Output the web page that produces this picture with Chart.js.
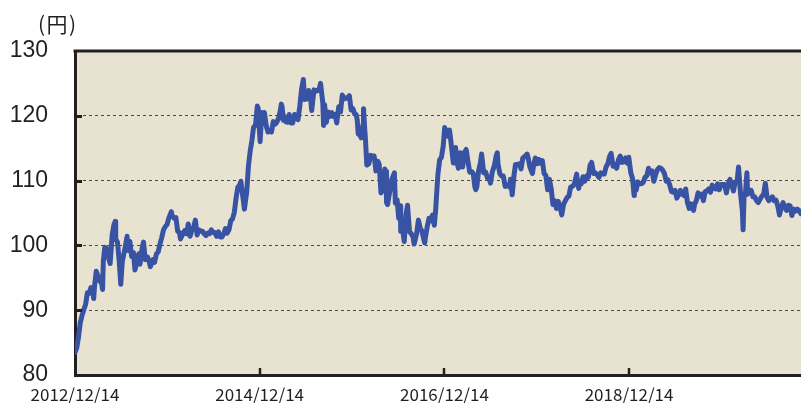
<!DOCTYPE html>
<html><head><meta charset="utf-8">
<script src="https://cdn.jsdelivr.net/npm/chart.js@4/dist/chart.umd.min.js"></script>
<style>
html,body{margin:0;padding:0;background:#fff;}
#wrap{position:relative;width:801px;height:403px;}
#unit{position:absolute;left:38px;top:13px;font-size:21px;line-height:21px;font-family:"Noto Sans CJK JP";color:#231f20;letter-spacing:1.5px;}
</style></head><body>
<div id="wrap"><canvas id="c" width="801" height="403"></canvas><div id="unit">(円)</div></div>
<script>
const startDate = '2012-12-14';
const endDate = '2020-10-24';
const tickDates = ['2012-12-14','2014-12-14','2016-12-14','2018-12-14'];
const tickLabels = ['2012/12/14','2014/12/14','2016/12/14','2018/12/14'];
const yMin = 80, yMax = 130, yStep = 10;

const dates = [
'2012-12-14','2012-12-21','2012-12-28',
'2013-01-04','2013-01-11','2013-01-18','2013-01-25','2013-02-01','2013-02-08','2013-02-15','2013-02-22','2013-02-26','2013-03-01','2013-03-08','2013-03-15','2013-03-22','2013-03-29','2013-04-02','2013-04-05','2013-04-11','2013-04-19','2013-04-26','2013-05-02','2013-05-10','2013-05-17','2013-05-22','2013-05-24','2013-05-31','2013-06-07','2013-06-13','2013-06-19','2013-06-28','2013-07-08','2013-07-12','2013-07-19','2013-07-26','2013-08-02','2013-08-08','2013-08-16','2013-08-23','2013-08-28','2013-09-06','2013-09-11','2013-09-18','2013-09-27','2013-10-04','2013-10-08','2013-10-18','2013-10-25','2013-11-01','2013-11-08','2013-11-15','2013-11-22','2013-11-29','2013-12-06','2013-12-13','2013-12-20','2013-12-30',
'2014-01-02','2014-01-10','2014-01-17','2014-01-24','2014-01-31','2014-02-04','2014-02-14','2014-02-21','2014-02-28','2014-03-07','2014-03-14','2014-03-21','2014-03-28','2014-04-04','2014-04-11','2014-04-18','2014-04-25','2014-05-02','2014-05-09','2014-05-16','2014-05-23','2014-05-30','2014-06-06','2014-06-13','2014-06-20','2014-06-27','2014-07-04','2014-07-11','2014-07-18','2014-07-25','2014-08-01','2014-08-08','2014-08-15','2014-08-22','2014-08-29','2014-09-05','2014-09-12','2014-09-19','2014-09-26','2014-10-01','2014-10-07','2014-10-15','2014-10-24','2014-10-31','2014-11-07','2014-11-14','2014-11-20','2014-11-28','2014-12-05','2014-12-08','2014-12-16','2014-12-23','2014-12-31',
'2015-01-02','2015-01-09','2015-01-16','2015-01-23','2015-01-30','2015-02-06','2015-02-13','2015-02-20','2015-02-27','2015-03-06','2015-03-10','2015-03-13','2015-03-18','2015-03-20','2015-03-27','2015-04-03','2015-04-10','2015-04-17','2015-04-24','2015-05-01','2015-05-08','2015-05-15','2015-05-22','2015-05-29','2015-06-05','2015-06-10','2015-06-12','2015-06-19','2015-06-26','2015-07-03','2015-07-08','2015-07-17','2015-07-24','2015-07-31','2015-08-07','2015-08-12','2015-08-21','2015-08-24','2015-08-28','2015-09-04','2015-09-11','2015-09-18','2015-09-25','2015-10-02','2015-10-09','2015-10-15','2015-10-23','2015-10-30','2015-11-06','2015-11-13','2015-11-20','2015-11-27','2015-12-04','2015-12-11','2015-12-18','2015-12-25','2015-12-31',
'2016-01-04','2016-01-08','2016-01-15','2016-01-20','2016-01-27','2016-01-29','2016-02-03','2016-02-05','2016-02-11','2016-02-19','2016-02-26','2016-03-04','2016-03-11','2016-03-18','2016-03-25','2016-03-31','2016-04-07','2016-04-15','2016-04-22','2016-04-27','2016-04-29','2016-05-03','2016-05-13','2016-05-20','2016-05-30','2016-06-03','2016-06-10','2016-06-16','2016-06-23','2016-06-24','2016-07-01','2016-07-08','2016-07-15','2016-07-21','2016-07-29','2016-08-05','2016-08-12','2016-08-16','2016-08-19','2016-08-26','2016-09-02','2016-09-09','2016-09-16','2016-09-23','2016-09-27','2016-09-30','2016-10-07','2016-10-14','2016-10-21','2016-10-28','2016-11-04','2016-11-09','2016-11-11','2016-11-18','2016-11-25','2016-12-02','2016-12-09','2016-12-15','2016-12-23','2016-12-30',
'2017-01-03','2017-01-06','2017-01-13','2017-01-18','2017-01-20','2017-01-27','2017-02-03','2017-02-07','2017-02-10','2017-02-15','2017-02-24','2017-03-02','2017-03-10','2017-03-16','2017-03-24','2017-03-31','2017-04-07','2017-04-13','2017-04-17','2017-04-21','2017-04-28','2017-05-05','2017-05-10','2017-05-18','2017-05-26','2017-06-02','2017-06-09','2017-06-14','2017-06-21','2017-06-30','2017-07-07','2017-07-11','2017-07-14','2017-07-21','2017-07-28','2017-08-04','2017-08-11','2017-08-18','2017-08-25','2017-08-29','2017-09-01','2017-09-08','2017-09-15','2017-09-21','2017-09-29','2017-10-06','2017-10-13','2017-10-20','2017-10-27','2017-11-06','2017-11-10','2017-11-17','2017-11-27','2017-12-01','2017-12-08','2017-12-15','2017-12-22','2017-12-29',
'2018-01-05','2018-01-12','2018-01-19','2018-01-26','2018-02-02','2018-02-09','2018-02-16','2018-02-23','2018-03-02','2018-03-09','2018-03-16','2018-03-23','2018-03-30','2018-04-06','2018-04-13','2018-04-20','2018-04-27','2018-05-04','2018-05-11','2018-05-21','2018-05-25','2018-05-29','2018-06-01','2018-06-08','2018-06-15','2018-06-22','2018-06-29','2018-07-06','2018-07-13','2018-07-19','2018-07-27','2018-08-03','2018-08-10','2018-08-17','2018-08-24','2018-08-31','2018-09-07','2018-09-14','2018-09-21','2018-09-28','2018-10-04','2018-10-12','2018-10-19','2018-10-26','2018-11-02','2018-11-09','2018-11-16','2018-11-23','2018-11-30','2018-12-07','2018-12-13','2018-12-21','2018-12-28',
'2019-01-03','2019-01-04','2019-01-11','2019-01-18','2019-01-25','2019-02-01','2019-02-08','2019-02-15','2019-02-22','2019-03-01','2019-03-08','2019-03-15','2019-03-22','2019-03-29','2019-04-05','2019-04-12','2019-04-19','2019-04-26','2019-05-03','2019-05-10','2019-05-17','2019-05-24','2019-05-31','2019-06-07','2019-06-14','2019-06-21','2019-06-28','2019-07-05','2019-07-12','2019-07-19','2019-07-26','2019-08-02','2019-08-09','2019-08-16','2019-08-26','2019-08-30','2019-09-06','2019-09-13','2019-09-20','2019-09-27','2019-10-04','2019-10-11','2019-10-18','2019-10-25','2019-11-01','2019-11-08','2019-11-15','2019-11-22','2019-11-29','2019-12-06','2019-12-13','2019-12-20','2019-12-27',
'2020-01-03','2020-01-10','2020-01-17','2020-01-24','2020-01-31','2020-02-07','2020-02-14','2020-02-20','2020-02-28','2020-03-06','2020-03-09','2020-03-13','2020-03-18','2020-03-24','2020-03-27','2020-04-03','2020-04-10','2020-04-17','2020-04-24','2020-05-01','2020-05-08','2020-05-15','2020-05-22','2020-05-29','2020-06-05','2020-06-12','2020-06-19','2020-06-26','2020-07-03','2020-07-10','2020-07-17','2020-07-24','2020-07-31','2020-08-07','2020-08-14','2020-08-21','2020-08-28','2020-09-04','2020-09-11','2020-09-18','2020-09-25','2020-10-02','2020-10-09','2020-10-16','2020-10-23'
];
const values = [
83.5,84.2,85.9,
88.1,89.2,90.1,90.9,92.7,92.6,93.5,93.4,91.8,93.6,96.0,95.3,94.5,94.2,93.2,97.6,99.7,99.5,98.0,97.2,101.6,103.2,103.7,101.0,100.5,97.5,94.0,97.5,99.2,101.4,99.2,100.6,98.3,98.9,96.2,97.5,98.7,97.1,99.7,100.5,97.8,98.2,97.4,96.7,97.8,97.4,98.7,99.0,100.2,101.2,102.4,102.9,103.2,104.2,105.2,
104.6,104.2,104.3,102.2,102.0,101.0,101.8,102.3,101.8,103.3,101.4,102.3,102.8,103.9,101.6,102.4,102.2,102.2,101.8,101.5,101.9,101.8,102.4,102.0,102.0,101.4,102.1,101.3,101.3,101.8,102.6,101.9,102.4,103.8,104.1,105.1,107.3,109.0,109.3,109.9,108.0,105.6,108.2,112.3,114.6,116.3,118.2,118.6,121.5,121.2,116.0,120.5,119.8,
120.5,118.5,117.5,117.7,117.5,119.1,118.7,119.0,119.6,120.8,121.8,121.4,119.3,120.0,119.1,119.0,120.2,118.9,118.9,120.2,119.8,119.4,121.5,124.1,125.6,122.5,123.4,122.6,123.9,123.0,120.8,124.0,123.8,123.9,124.2,125.0,122.0,118.5,121.7,119.0,120.6,119.9,120.5,119.9,120.2,118.9,121.4,120.6,123.2,122.6,122.8,122.7,123.1,120.9,121.1,120.3,120.2,
119.4,117.2,117.0,116.6,118.7,121.1,117.8,116.8,112.4,112.6,113.9,113.8,113.8,111.5,113.0,112.5,108.1,108.7,111.8,111.4,106.6,106.3,108.6,110.2,111.2,106.5,107.0,104.2,106.1,102.2,102.6,100.6,104.8,106.2,102.1,101.8,101.3,100.2,100.2,101.8,103.9,102.7,102.2,101.0,100.4,101.3,102.9,104.2,103.8,104.7,103.1,105.3,106.6,110.9,113.2,113.6,115.3,118.2,117.3,116.8,
117.8,116.9,114.5,112.7,114.6,115.1,112.6,111.9,113.2,114.3,112.1,114.3,114.8,113.2,111.3,111.4,111.1,109.1,108.6,109.0,111.5,112.7,114.1,111.2,111.3,110.4,110.3,109.6,111.3,112.4,113.9,114.3,112.5,111.1,110.7,110.7,109.1,109.2,109.4,109.0,110.2,107.8,110.8,112.5,112.5,112.6,111.8,113.5,113.7,114.1,113.5,112.1,111.1,112.2,113.5,112.6,113.3,112.7,
113.1,111.1,110.8,108.6,110.2,108.8,106.3,106.9,105.7,106.8,106.0,104.7,106.3,106.9,107.4,107.6,109.0,109.1,109.4,111.0,109.4,108.8,109.5,109.5,110.6,109.9,110.7,110.5,112.4,112.8,111.1,111.2,110.9,110.5,111.2,111.0,111.0,112.1,112.6,113.7,114.2,112.2,112.5,111.9,113.2,113.8,112.8,112.9,113.5,112.7,113.6,111.2,110.3,
107.7,108.5,108.5,109.8,109.5,109.5,109.7,110.5,110.7,111.9,111.2,111.5,109.9,110.9,111.7,112.0,111.9,111.6,111.1,109.9,110.1,109.3,108.3,108.2,108.5,107.3,107.8,108.5,107.9,107.7,108.7,106.6,105.7,106.4,105.4,106.3,106.9,108.1,107.6,107.9,106.9,108.3,108.4,108.7,108.2,109.3,108.8,108.7,109.5,108.6,109.4,109.4,109.4,
108.1,109.5,110.2,109.3,108.4,109.8,109.8,112.1,107.9,105.4,102.4,107.9,107.8,111.2,107.9,108.5,108.5,107.5,107.5,106.9,106.6,107.1,107.6,107.8,109.6,107.4,106.9,107.2,107.5,106.9,107.0,106.1,104.7,105.9,106.6,105.8,105.4,106.2,106.1,104.6,105.6,105.3,105.6,105.4,104.9
];

const DAY = 86400000;
const dayOf = s => Math.round((Date.parse(s) - Date.parse(startDate)) / DAY);
const points = dates.map((d, i) => ({ x: dayOf(d), y: values[i] }));
const tickDays = tickDates.map(dayOf);
const INK = '#231f20';

const framePlugin = {
  id: 'frame',
  beforeDraw(chart) {
    const { ctx, chartArea: a } = chart;
    ctx.save();
    ctx.fillStyle = '#e8e3d1';
    ctx.fillRect(a.left, a.top, a.right - a.left, a.bottom - a.top);
    ctx.restore();
  },
  afterDraw(chart) {
    const { ctx, chartArea: a, scales } = chart;
    ctx.save();
    ctx.strokeStyle = INK;
    ctx.lineWidth = 3;
    ctx.beginPath();
    ctx.moveTo(a.left - 1.5, a.top);
    ctx.lineTo(a.right, a.top);
    ctx.stroke();
    ctx.lineWidth = 2.5;
    tickDays.forEach(d => {
      if (d === 0) return;
      const x = Math.round(scales.x.getPixelForValue(d));
      ctx.beginPath();
      ctx.moveTo(x, a.bottom);
      ctx.lineTo(x, a.bottom - 7);
      ctx.stroke();
    });
    ctx.lineWidth = 3;
    for (let v = yMin + yStep; v < yMax; v += yStep) {
      const y = Math.round(scales.y.getPixelForValue(v)) + 0.5;
      ctx.beginPath();
      ctx.moveTo(a.left, y);
      ctx.lineTo(a.left + 7, y);
      ctx.stroke();
    }
    ctx.restore();
  }
};

new Chart(document.getElementById('c'), {
  type: 'line',
  data: {
    datasets: [{
      data: points,
      borderColor: '#3953a4',
      borderWidth: 5,
      pointRadius: 0,
      tension: 0,
      fill: false,
      borderJoinStyle: 'round',
      borderCapStyle: 'round'
    }]
  },
  options: {
    responsive: false,
    animation: false,
    events: [],
    layout: { autoPadding: false, padding: { top: 51, right: 0, left: 0, bottom: 0 } },
    plugins: { legend: { display: false }, tooltip: { enabled: false } },
    scales: {
      x: {
        type: 'linear',
        min: 0,
        max: dayOf(endDate),
        afterBuildTicks: s => { s.ticks = tickDays.map(v => ({ value: v })); },
        afterFit: s => { s.height = 28; s.paddingLeft = 0; s.paddingRight = 0; },
        ticks: {
          callback: v => { const i = tickDays.indexOf(v); return i >= 0 ? tickLabels[i] : ''; },
          font: { family: 'Noto Sans CJK JP', size: 17 },
          color: INK,
          padding: 9,
          maxRotation: 0,
          autoSkip: false
        },
        grid: { display: false, drawTicks: false },
        border: { display: true, width: 3, color: INK }
      },
      y: {
        min: yMin,
        max: yMax,
        afterFit: s => { s.width = 75; s.paddingTop = 0; s.paddingBottom = 0; },
        ticks: {
          stepSize: yStep,
          font: { family: 'Liberation Sans', size: 23 },
          color: INK,
          padding: 27
        },
        grid: {
          drawTicks: false,
          lineWidth: 1,
          color: c => (c.tick && c.tick.value > yMin && c.tick.value < yMax) ? '#4a4a4a' : 'rgba(0,0,0,0)'
        },
        border: { display: true, width: 3, color: INK, dash: [3, 3] }
      }
    }
  },
  plugins: [framePlugin]
});
</script>
</body></html>
